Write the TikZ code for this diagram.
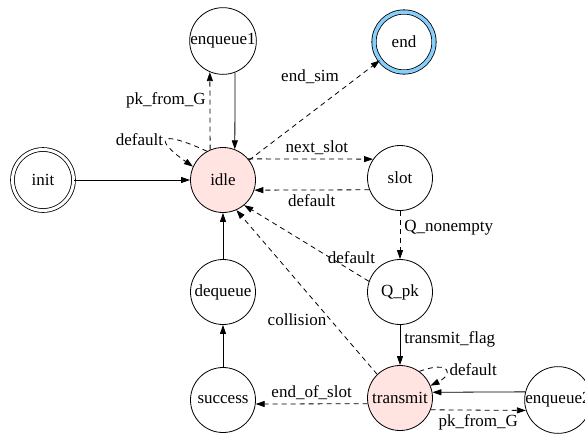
\documentclass[tikz,border=0pt]{standalone}
\usepackage{fontspec}
\setmainfont{Liberation Serif}
\usetikzlibrary{arrows.meta}
\definecolor{rosefill}{HTML}{FFE4E1}
\definecolor{ringblue}{HTML}{87CEFA}
\begin{document}
\begin{tikzpicture}[x=1pt,y=-1pt,>={Triangle[length=9pt,width=6pt]},line join=round,line width=0.8pt,
    font=\fontsize{17}{20}\selectfont,
    st/.style={circle,draw,minimum size=65pt,inner sep=0pt},
    trans/.style={->,dash pattern=on 5pt off 4pt},
    lbl/.style={inner sep=4pt}]
    \useasboundingbox (0,0) rectangle (585,437);
    \node[st,double,double distance=3pt,minimum size=61pt] (init) at (43,180) {init};
    \node[st,fill=rosefill] (idle) at (223,180) {idle};
    \node[st] (enqueue1) at (223,41) {enqueue1};
    \node[st,double=ringblue,double distance=3.5pt,minimum size=60pt] (fin) at (404,42) {end};
    \node[st] (slot) at (400,178) {slot};
    \node[st] (qpk) at (400,292) {Q\_pk};
    \node[st,fill=rosefill] (transmit) at (400,398) {transmit};
    \node[st] (enqueue2) at (558,400) {enqueue2};
    \node[st] (dequeue) at (223,292) {dequeue};
    \node[st] (success) at (223,400) {success};
    \draw[->] (init) -- (idle);
    \draw[->] (enqueue1.291) -- (idle.69);
    \draw[trans] (idle.113) -- node[lbl,left,pos=0.63]{pk\_from\_G} (enqueue1.247);
    \draw[trans] (idle.119) .. controls (156,128) and (155,140) .. node[lbl,left,pos=0.45]{default} (idle.156);
    \draw[trans] (idle) -- node[lbl,above left,pos=0.72]{end\_sim} (fin);
    \draw[trans] (idle.40) -- node[lbl,above,pos=0.55]{next\_slot} (slot.145);
    \draw[trans] (slot.201) -- node[lbl,below]{default} (idle.-18);
    \draw[trans] (slot) -- node[lbl,right,pos=0.35]{Q\_nonempty} (qpk);
    \draw[trans] (qpk.161) -- node[lbl,above=3pt,pos=0.14]{default} (idle.-50);
    \draw[->] (qpk) -- node[lbl,right,pos=0.35]{transmit\_flag} (transmit);
    \draw[trans] (transmit.134) -- node[lbl,left,pos=0.33]{collision} (idle.-66);
    \draw[trans] (transmit.54) .. controls (450,360) and (454,374) .. node[lbl,right]{default} (transmit.22);
    \draw[->] (enqueue2.166) -- (transmit.10);
    \draw[trans] (transmit.-21) -- node[lbl,below]{pk\_from\_G} (enqueue2.198);
    \draw[trans] (transmit.190) -- node[lbl,above]{end\_of\_slot} (success.-7);
    \draw[->] (success) -- (dequeue);
    \draw[->] (dequeue) -- (idle);
\end{tikzpicture}
\end{document}
